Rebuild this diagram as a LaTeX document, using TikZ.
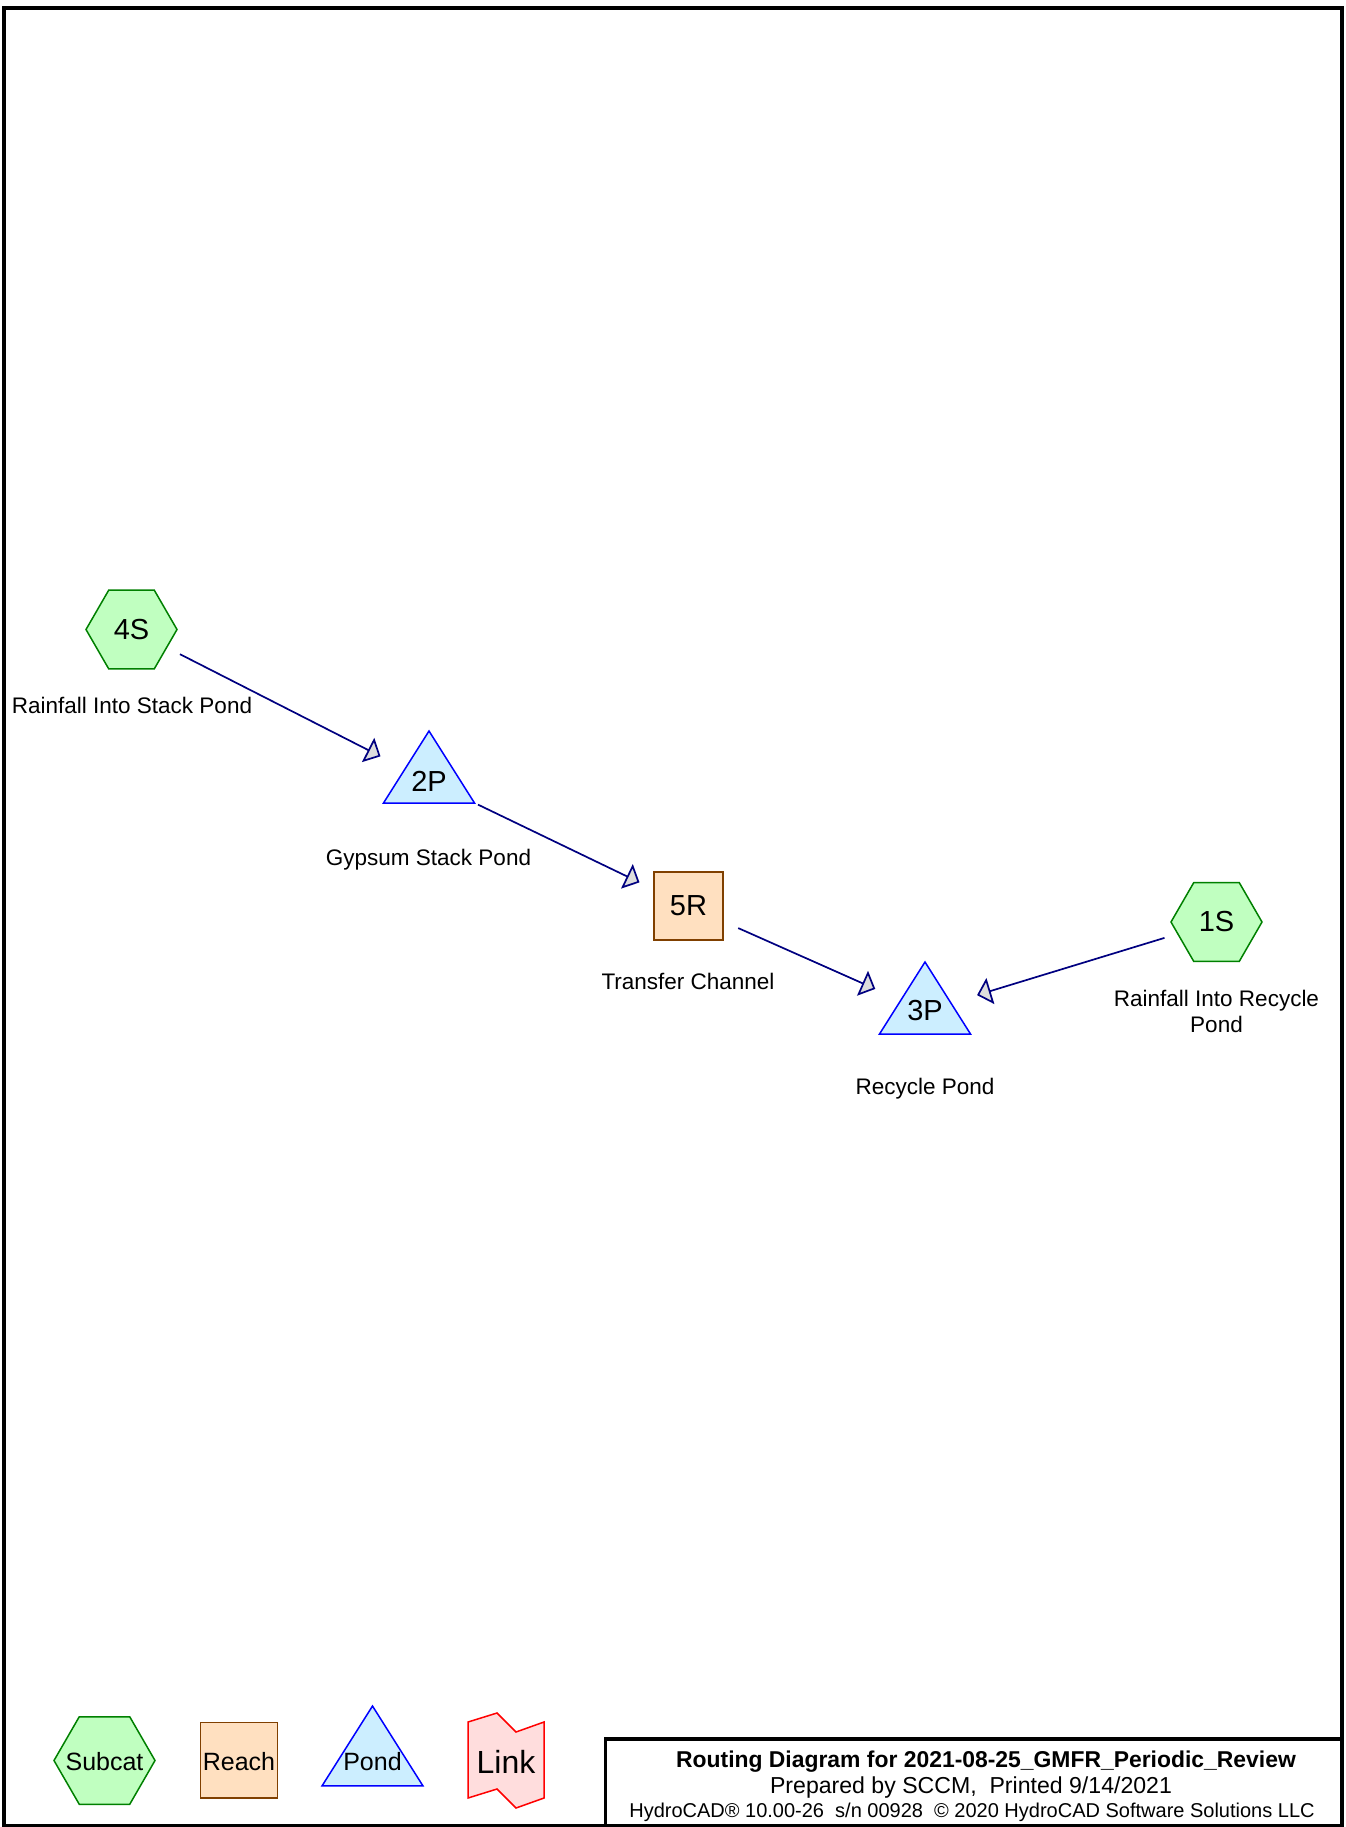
\documentclass[tikz,border=0pt]{standalone}
\usepackage{fontspec}
\setmainfont{Liberation Sans}
\usetikzlibrary{arrows.meta}
\definecolor{subfill}{RGB}{192,255,192}
\definecolor{subdraw}{RGB}{0,128,0}
\definecolor{reachfill}{RGB}{255,224,192}
\definecolor{reachdraw}{RGB}{128,64,0}
\definecolor{pondfill}{RGB}{204,238,255}
\definecolor{ponddraw}{RGB}{0,0,255}
\definecolor{linkfill}{RGB}{255,221,221}
\definecolor{linkdraw}{RGB}{255,0,0}
\definecolor{connline}{RGB}{0,0,128}
\definecolor{tipfill}{RGB}{221,221,221}
\tikzset{
  subcat/.style={draw=subdraw,fill=subfill,line width=0.75pt},
  reach/.style={draw=reachdraw,fill=reachfill,line width=0.75pt},
  pond/.style={draw=ponddraw,fill=pondfill,line width=0.75pt},
  linkst/.style={draw=linkdraw,fill=linkfill,line width=0.75pt},
  hexa/.pic={\path[subcat] (-45.5,0) -- (-22.75,-39.4) -- (22.75,-39.4) -- (45.5,0) -- (22.75,39.4) -- (-22.75,39.4) -- cycle;},
  tri/.pic={\path[pond] (0,-48) -- (45.5,24) -- (-45.5,24) -- cycle;},
  reachbox/.pic={\path[reach] (-34.5,-34) rectangle (34.5,34);},
  nodeid/.style={circle,minimum size=54pt,inner sep=0pt,font=\fontsize{14.5pt}{16pt}\selectfont},
  lbl/.style={anchor=base,inner sep=0pt,font=\fontsize{11.25pt}{13pt}\selectfont,align=center},
  conn/.style={draw=connline,line width=0.85pt,-{Triangle[length=7pt,width=13.5pt,fill=tipfill]}},
  legtext/.style={anchor=base,inner sep=0pt,font=\fontsize{12.5pt}{14pt}\selectfont},
  ttl/.style={anchor=base,inner sep=0pt}
}
\begin{document}
\begin{tikzpicture}[x=0.5pt,y=-0.5pt]
\useasboundingbox (0,0) rectangle (1345,1827);
\fill[white] (0,0) rectangle (1345,1827);
% frame
\draw[line width=2pt] (4,8) rectangle (1342,1826);
\draw[line width=1.75pt] (605.5,1827) -- (605.5,1739) -- (1342,1739);

% shapes
\pic at (131.5,629.5) {hexa};
\pic at (1216.5,922) {hexa};
\pic at (429,779) {tri};
\pic at (925,1010) {tri};
\pic at (688.5,906) {reachbox};

% node ids
\node[nodeid] (n4S) at (131.5,629.5) {4S};
\node[nodeid] (n2P) at (429,781) {2P};
\node[nodeid] (n5R) at (688.5,906) {5R};
\node[nodeid] (n3P) at (925,1011) {3P};
\node[nodeid] (n1S) at (1216.5,922) {1S};

% labels
\node[lbl] (l4S) at (132,713) {Rainfall Into Stack Pond};
\node[lbl] (l2P) at (428.5,865) {Gypsum Stack Pond};
\node[lbl] (l5R) at (688,989) {Transfer Channel};
\node[lbl] (l3P) at (925,1094) {Recycle Pond};
\node[lbl] (l1S) at (1216.5,1032) {Rainfall Into Recycle\\Pond};

% connectors
\draw[conn] (n4S) -- (n2P);
\draw[conn] (n2P) -- (n5R);
\draw[conn] (n5R) -- (n3P);
\draw[conn] (n1S) -- (n3P);

% legend
\pic[scale=1.11] at (104.5,1760.5) {hexa};
\pic[scale=1.11] at (239,1760) {reachbox};
\pic[scale=1.11] at (372.5,1759.3) {tri};
\path[linkst] (468,1722) -- (497,1713) -- (516,1732) -- (544,1722) -- (544,1798) -- (516,1808) -- (497,1789) -- (468,1798) -- cycle;
\node[legtext] (lgSub) at (104.5,1770) {Subcat};
\node[legtext] (lgReach) at (239,1770) {Reach};
\node[legtext] (lgPond) at (372.5,1770) {Pond};
\node[legtext,font=\fontsize{16pt}{18pt}\selectfont] (lgLink) at (506,1773) {Link};

% title block
\node[ttl,font=\bfseries\fontsize{11.45pt}{13pt}\selectfont] (t1) at (986,1767) {Routing Diagram for 2021-08-25\_GMFR\_Periodic\_Review};
\node[ttl,font=\fontsize{11.55pt}{13pt}\selectfont] (t2) at (971,1793) {Prepared by SCCM,\ \ Printed 9/14/2021};
\node[ttl,font=\fontsize{10pt}{12pt}\selectfont] (t3) at (972,1817) {HydroCAD® 10.00-26\ \ s/n 00928\ \ © 2020 HydroCAD Software Solutions LLC};
\end{tikzpicture}
\end{document}
